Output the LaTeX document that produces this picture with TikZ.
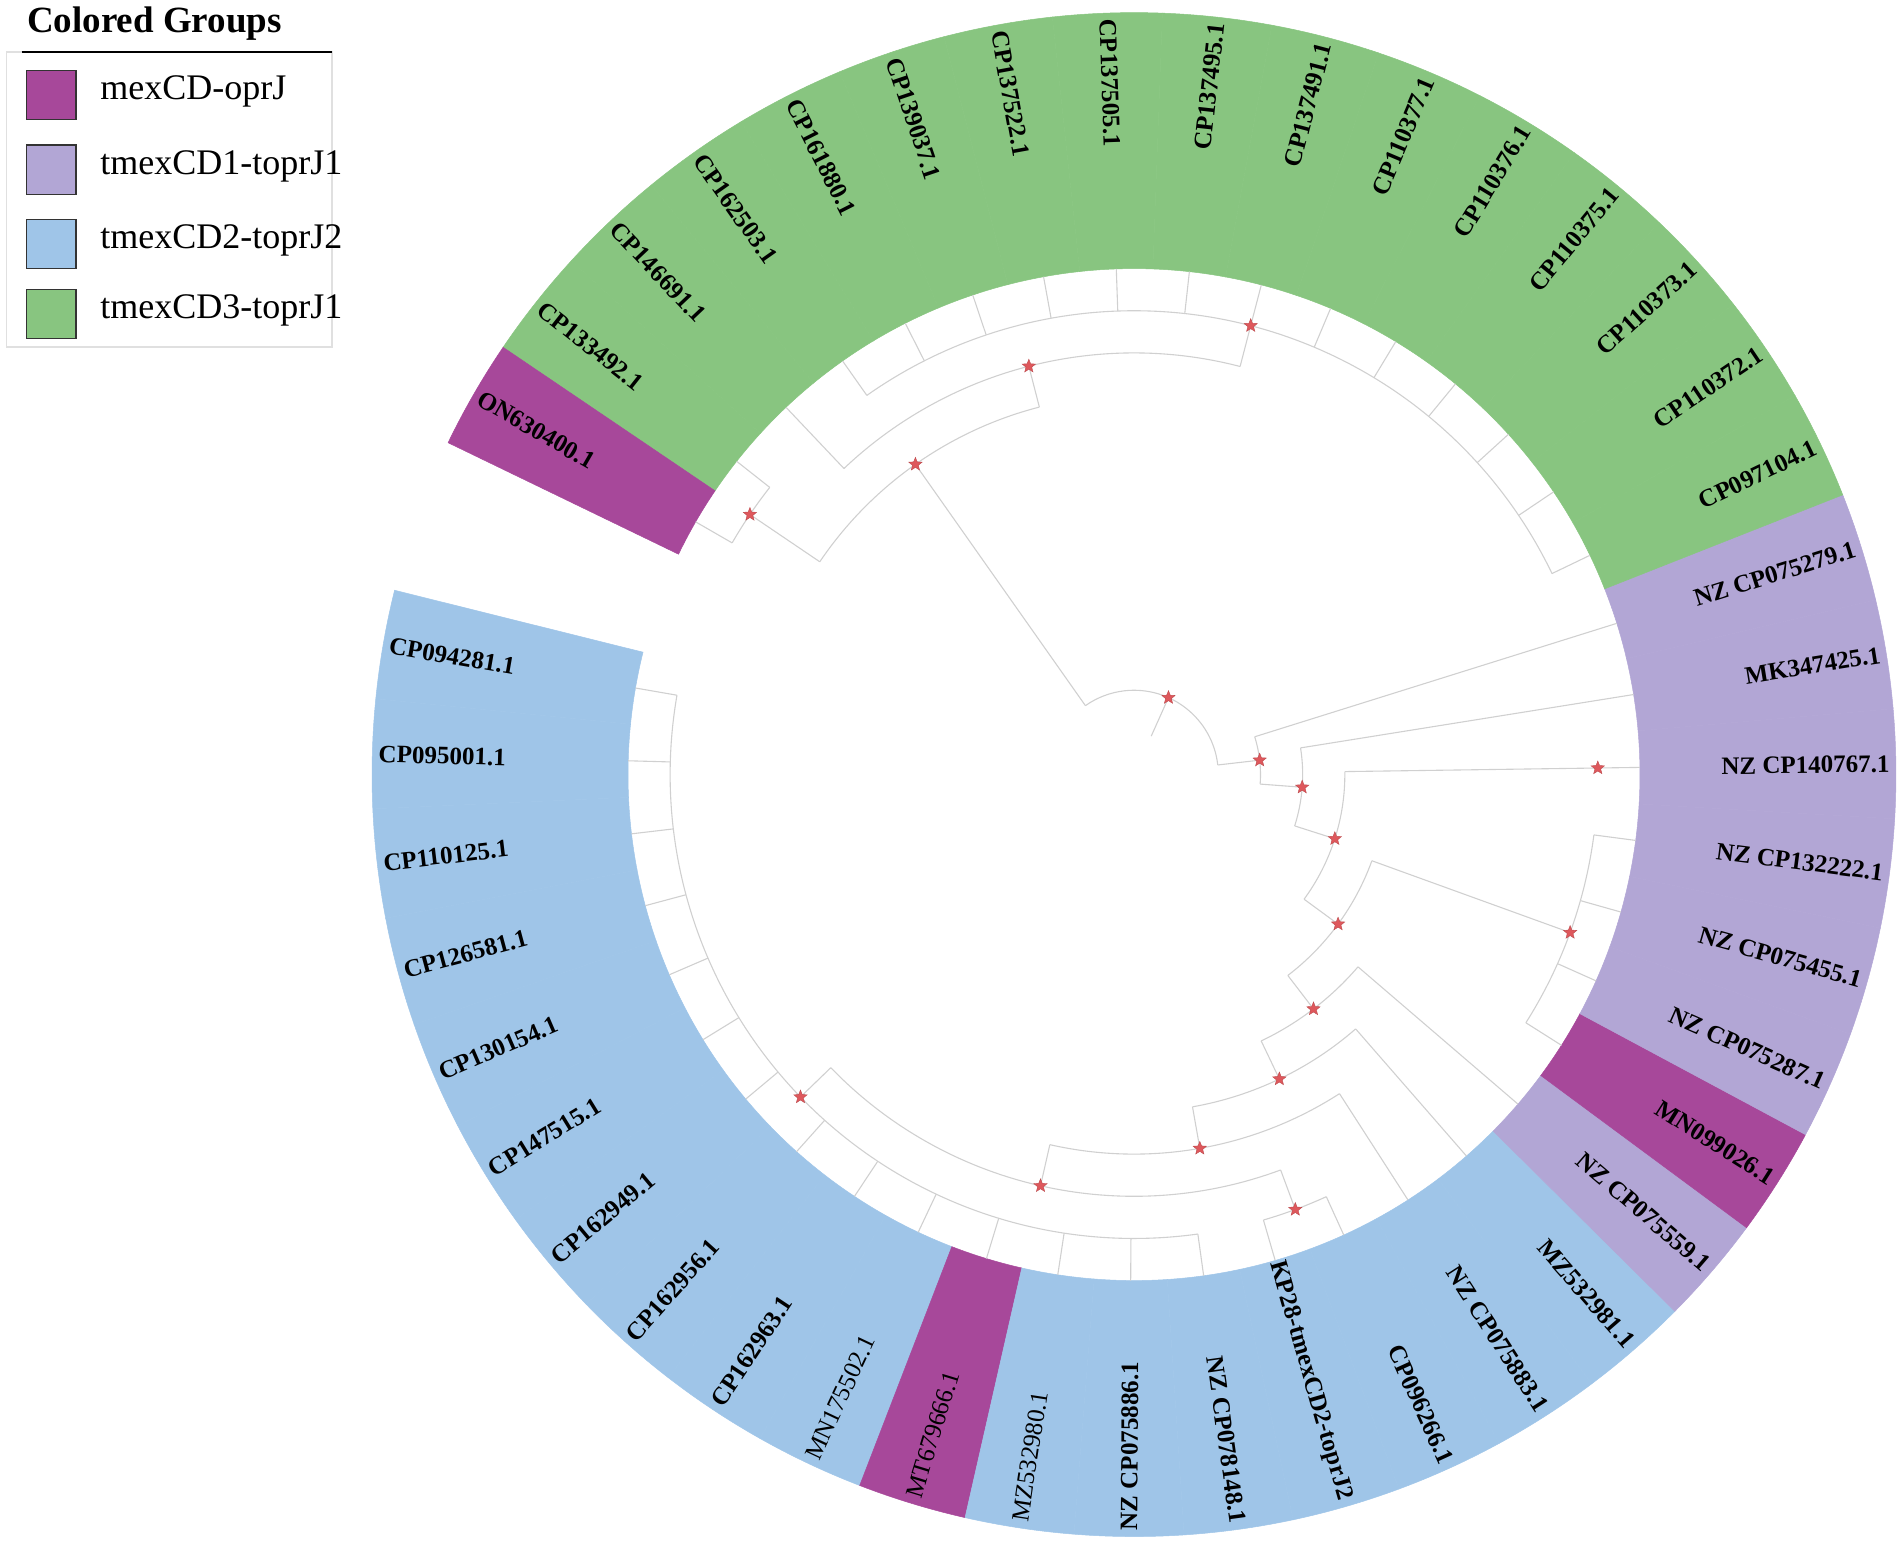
\documentclass[tikz,border=0pt]{standalone}
\usepackage{fontspec}
\setmainfont{Liberation Serif}
\usetikzlibrary{shapes.geometric}

\definecolor{grpM}{RGB}{167,72,154}
\definecolor{grpA}{RGB}{178,166,213}
\definecolor{grpB}{RGB}{159,197,232}
\definecolor{grpC}{RGB}{136,197,128}
\definecolor{treegray}{RGB}{208,208,208}
\definecolor{starred}{RGB}{222,88,92}

\tikzset{
  branch/.style={draw=treegray, line width=0.55pt},
  nodestar/.style={star, star points=5, star point ratio=2.3, fill=starred,
    draw=starred!85!black, line width=0.2pt, inner sep=0pt, minimum size=7pt},
  labb/.style={font=\fontsize{12.5}{14}\selectfont\bfseries, inner sep=1pt},
  labm/.style={font=\fontsize{12.5}{14}\selectfont, inner sep=1pt},
  swatch/.style={draw=black!80, line width=0.6pt},
  legtext/.style={font=\fontsize{18}{21}\selectfont, anchor=base west, inner sep=0pt},
}

% level step of the cladogram, ring radii (all in px of the figure)
\newcommand{\lv}{42.17}
\newcommand{\rin}{506}
\newcommand{\rout}{762}
\newcommand{\rlab}{758}

% leaf / label / group colour / weight / level of parent
\newcommand{\leaves}{0/CP094281.1/grpB/b/11, 1/CP095001.1/grpB/b/11,
  2/CP110125.1/grpB/b/11, 3/CP126581.1/grpB/b/11, 4/CP130154.1/grpB/b/11,
  5/CP147515.1/grpB/b/11, 6/CP162949.1/grpB/b/11, 7/CP162956.1/grpB/b/11,
  8/CP162963.1/grpB/b/11, 9/MN175502.1/grpB/m/11, 10/MT679666.1/grpM/m/11,
  11/MZ532980.1/grpB/m/11, 12/NZ CP075886.1/grpB/b/11, 13/NZ CP078148.1/grpB/b/11,
  14/KP28-tmexCD2-toprJ2/grpB/b/11, 15/CP096266.1/grpB/b/11,
  16/NZ CP075883.1/grpB/b/9, 17/MZ532981.1/grpB/b/8, 18/NZ CP075559.1/grpA/b/7,
  19/MN099026.1/grpM/b/11, 20/NZ CP075287.1/grpA/b/11, 21/NZ CP075455.1/grpA/b/11,
  22/NZ CP132222.1/grpA/b/11, 23/NZ CP140767.1/grpA/b/11, 24/MK347425.1/grpA/b/4,
  25/NZ CP075279.1/grpA/b/3, 26/CP097104.1/grpC/b/11, 27/CP110372.1/grpC/b/11,
  28/CP110373.1/grpC/b/11, 29/CP110375.1/grpC/b/11, 30/CP110376.1/grpC/b/11,
  31/CP110377.1/grpC/b/11, 32/CP137491.1/grpC/b/11, 33/CP137495.1/grpC/b/11,
  34/CP137505.1/grpC/b/11, 35/CP137522.1/grpC/b/11, 36/CP139037.1/grpC/b/11,
  37/CP161880.1/grpC/b/11, 38/CP162503.1/grpC/b/11, 39/CP146691.1/grpC/b/10,
  40/CP133492.1/grpC/b/11, 41/ON630400.1/grpM/b/11}

% node / angle / level / parent level / arc from / arc to
\newcommand{\clades}{nRoot/425.86/2/1/366.55/485.165, nR/366.55/3/2/355.70/377.395,
  nRa/355.70/4/3/342.29/369.105, nRb/342.29/5/4/323.77/360.815,
  nRc/360.815/11/5/360.815/360.815, nRd/323.77/6/5/307.45/340.09,
  nRe/340.09/11/6/327.655/352.525, nRf/307.45/7/6/295.53/319.365,
  nRg/295.53/8/7/279.99/311.075, nRh/279.99/9/8/257.19/302.785,
  nRi/257.19/10/9/224.03/290.35, nRj/290.35/11/10/286.205/294.495,
  nRk/224.03/11/10/170.145/277.915, nL/485.165/9/2/464.44/505.89,
  nGa/464.44/10/9/435.425/493.455, nGb/435.425/11/10/385.685/485.165,
  nON/505.89/11/9/501.745/510.035}

\begin{document}
\begin{tikzpicture}[x=0.5pt, y=0.5pt]
  \useasboundingbox (-1134,-767.4) rectangle (768,774.6);

  % coloured ring
  \foreach \k/\lab/\grp/\wt/\up in \leaves {
    \pgfmathsetmacro\a{170.145+8.29*\k}
    \pgfmathsetmacro\aa{\a-4.145}
    \pgfmathsetmacro\ab{\a+4.145}
    \filldraw[fill=\grp, draw=\grp, line width=0.25pt]
      (\aa:\rin) arc[start angle=\aa, end angle=\ab, radius=\rin]
      -- (\ab:\rout) arc[start angle=\ab, end angle=\aa, radius=\rout] -- cycle;
  }

  % inner clades
  \foreach \nm/\ang/\lev/\pl/\sa/\ea in \clades {
    \pgfmathsetmacro\r{\lev*\lv}
    \pgfmathsetmacro\rp{\pl*\lv}
    \coordinate (\nm) at (\ang:\r);
    \draw[branch] (\sa:\r) arc[start angle=\sa, end angle=\ea, radius=\r];
    \draw[branch] (\ang:\rp) -- (\nm);
  }

  % tips
  \foreach \k/\lab/\grp/\wt/\up in \leaves {
    \pgfmathsetmacro\a{170.145+8.29*\k}
    \pgfmathsetmacro\rp{\up*\lv}
    \coordinate (tip\k) at (\a:\rin);
    \draw[branch] (\a:\rp) -- (tip\k);
  }

  % support marks
  \foreach \nm/\ang/\lev/\pl/\sa/\ea in \clades
    \node[nodestar] (\nm s) at (\nm) {};

  % add labels
  \foreach \k/\lab/\grp/\wt/\up in \leaves {
    \pgfmathsetmacro\a{170.145+8.29*\k}
    \pgfmathsetmacro\m{mod(\a,360)}
    \pgfmathtruncatemacro\flip{and(\m>90,\m<270)}
    \ifnum\flip=1
      \node[lab\wt, rotate=\a-180, anchor=west] (lab\k) at (\a:\rlab) {\lab};
    \else
      \node[lab\wt, rotate=\a, anchor=east] (lab\k) at (\a:\rlab) {\lab};
    \fi
  }

  % legend
  \draw[black!12, line width=0.6pt] (-1127.3,722.6) rectangle (-802,427.6);
  \draw[black, line width=0.7pt] (-1112.3,722.6) -- (-802.3,722.6);
  \node[anchor=base west, inner sep=0pt, font=\fontsize{18.5}{21}\selectfont\bfseries]
    (legtitle) at (-1107.3,741.6) {Colored Groups};
  \foreach \grp/\txt/\top [count=\i] in {grpM/mexCD-oprJ/704.0,
      grpA/tmexCD1-toprJ1/629.6, grpB/tmexCD2-toprJ2/555.3, grpC/tmexCD3-toprJ1/485.3} {
    \filldraw[swatch, fill=\grp] (-1107.3,\top) rectangle ++(49.3,-49.3);
    \node[legtext] (leg\i) at (-1034,\top-29.3) {\txt};
  }
\end{tikzpicture}
\end{document}
